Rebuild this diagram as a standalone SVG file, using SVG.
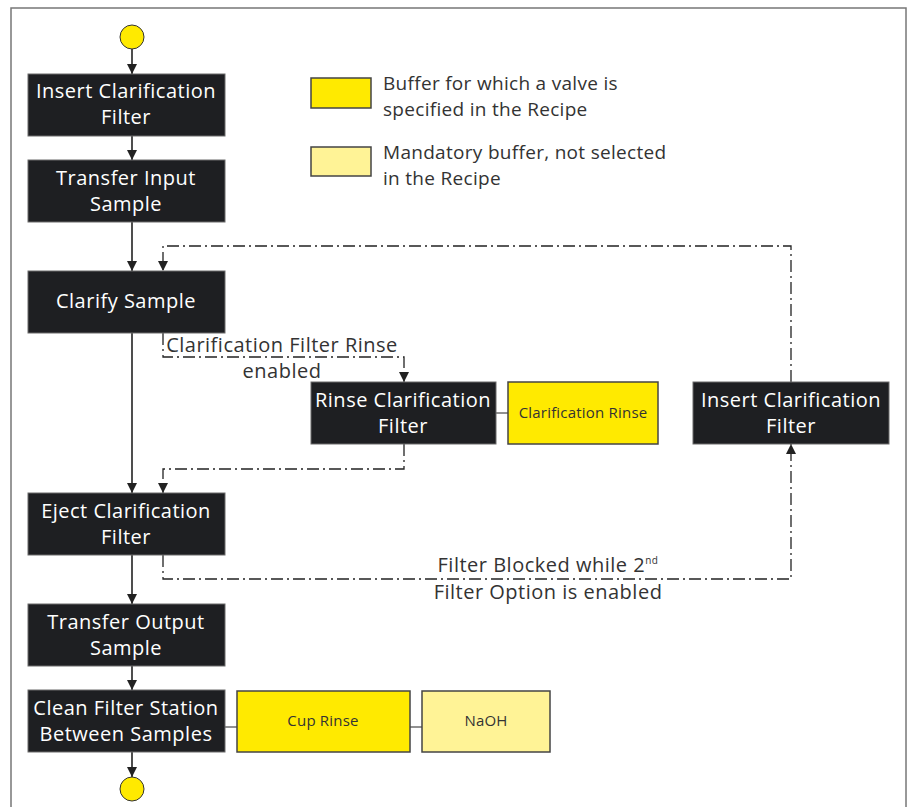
<svg xmlns="http://www.w3.org/2000/svg" width="910" height="807" viewBox="0 0 910 807">
<style>
.node{fill:#1e1f22;stroke:#6b6b6b;stroke-width:1}
.nt{fill:#ffffff;font-family:"Open Sans","Liberation Sans",sans-serif;font-size:20px;letter-spacing:0.5px;text-anchor:middle}
.buf{fill:#ffea00;stroke:#444;stroke-width:1.5}
.buf2{fill:#fff396;stroke:#444;stroke-width:1.5}
.bt{fill:#333;font-family:"Open Sans","Liberation Sans",sans-serif;font-size:15px;letter-spacing:0.2px;text-anchor:middle}
.lt{fill:#333;font-family:"Open Sans","Liberation Sans",sans-serif;font-size:19px;letter-spacing:0.3px}
.cl{fill:#333;font-family:"Open Sans","Liberation Sans",sans-serif;font-size:20px;letter-spacing:0.5px;text-anchor:middle}
.solid{fill:none;stroke:#222;stroke-width:1.6}
.dd{fill:none;stroke:#222;stroke-width:1.3;stroke-dasharray:12 4 2 4}
.thin{fill:none;stroke:#222;stroke-width:1}
.circ{fill:#ffea00;stroke:#333;stroke-width:1}
</style>
<defs>
<marker id="ah" viewBox="0 0 10 10" refX="10" refY="5" markerWidth="10" markerHeight="10" markerUnits="userSpaceOnUse" orient="auto">
<path d="M0,0 L10,5 L0,10 Z" fill="#222"/>
</marker>
</defs>
<rect x="11" y="8" width="895" height="820" fill="#fff" stroke="#777" stroke-width="1.5"/>

<g id="legend">
<rect x="311" y="78" width="60" height="30" class="buf"/>
<text class="lt" x="383" y="90">Buffer for which a valve is</text>
<text class="lt" x="383" y="116">specified in the Recipe</text>
<rect x="311" y="147" width="60" height="29" class="buf2"/>
<text class="lt" x="383" y="159">Mandatory buffer, not selected</text>
<text class="lt" x="383" y="185">in the Recipe</text>
</g>

<g id="connectors">
<line class="solid" x1="132" y1="49" x2="132" y2="74" marker-end="url(#ah)"/>
<line class="solid" x1="132" y1="136" x2="132" y2="160" marker-end="url(#ah)"/>
<line class="solid" x1="132" y1="222" x2="132" y2="271" marker-end="url(#ah)"/>
<line class="solid" x1="132" y1="333" x2="132" y2="493" marker-end="url(#ah)"/>
<line class="solid" x1="132" y1="555" x2="132" y2="604" marker-end="url(#ah)"/>
<line class="solid" x1="132" y1="666" x2="132" y2="690" marker-end="url(#ah)"/>
<line class="solid" x1="132" y1="752" x2="132" y2="777" marker-end="url(#ah)"/>
<line class="thin" x1="496" y1="413" x2="508" y2="413"/>
<line class="thin" x1="225" y1="727" x2="237" y2="727"/>
<line class="thin" x1="410" y1="727" x2="422" y2="727"/>
<polyline class="dd" points="163,333 163,357 404,357 404,382" marker-end="url(#ah)"/>
<polyline class="dd" points="404,444 404,469 163,469 163,493" marker-end="url(#ah)"/>
<polyline class="dd" points="163,555 163,579 791,579 791,444" marker-end="url(#ah)"/>
<polyline class="dd" points="791,382 791,246 163,246 163,271" marker-end="url(#ah)"/>
<rect x="168" y="336" width="228" height="19" fill="#fff"/>
<text class="cl" x="282" y="352">Clarification Filter Rinse</text>
<text class="cl" x="282" y="378">enabled</text>
<text class="cl" x="548" y="572">Filter Blocked while 2<tspan font-size="10" dy="-8">nd</tspan></text>
<text class="cl" x="548" y="599">Filter Option is enabled</text>
</g>

<g id="start"><circle cx="132" cy="37" r="12" class="circ"/></g>
<g id="insert1"><rect x="28" y="74" width="197" height="62" class="node"/><text class="nt" x="126" y="98">Insert Clarification</text><text class="nt" x="126" y="124">Filter</text></g>
<g id="transferIn"><rect x="28" y="160" width="197" height="62" class="node"/><text class="nt" x="126" y="185">Transfer Input</text><text class="nt" x="126" y="211">Sample</text></g>
<g id="clarify"><rect x="28" y="271" width="197" height="62" class="node"/><text class="nt" x="126" y="308">Clarify Sample</text></g>
<g id="rinse"><rect x="311" y="382" width="185" height="62" class="node"/><text class="nt" x="403" y="407">Rinse Clarification</text><text class="nt" x="403" y="433">Filter</text></g>
<g id="clarRinse"><rect x="508" y="382" width="150" height="62" class="buf"/><text class="bt" x="583" y="418">Clarification Rinse</text></g>
<g id="insert2"><rect x="693" y="382" width="196" height="62" class="node"/><text class="nt" x="791" y="407">Insert Clarification</text><text class="nt" x="791" y="433">Filter</text></g>
<g id="eject"><rect x="28" y="493" width="197" height="62" class="node"/><text class="nt" x="126" y="518">Eject Clarification</text><text class="nt" x="126" y="544">Filter</text></g>
<g id="transferOut"><rect x="28" y="604" width="197" height="62" class="node"/><text class="nt" x="126" y="629">Transfer Output</text><text class="nt" x="126" y="655">Sample</text></g>
<g id="clean"><rect x="28" y="690" width="197" height="62" class="node"/><text class="nt" x="126" y="715">Clean Filter Station</text><text class="nt" x="126" y="741">Between Samples</text></g>
<g id="cupRinse"><rect x="237" y="691" width="173" height="61" class="buf"/><text class="bt" x="323" y="726">Cup Rinse</text></g>
<g id="naoh"><rect x="422" y="691" width="128" height="61" class="buf2"/><text class="bt" x="486" y="726">NaOH</text></g>
<g id="end"><circle cx="132" cy="789" r="12" class="circ"/></g>
</svg>
